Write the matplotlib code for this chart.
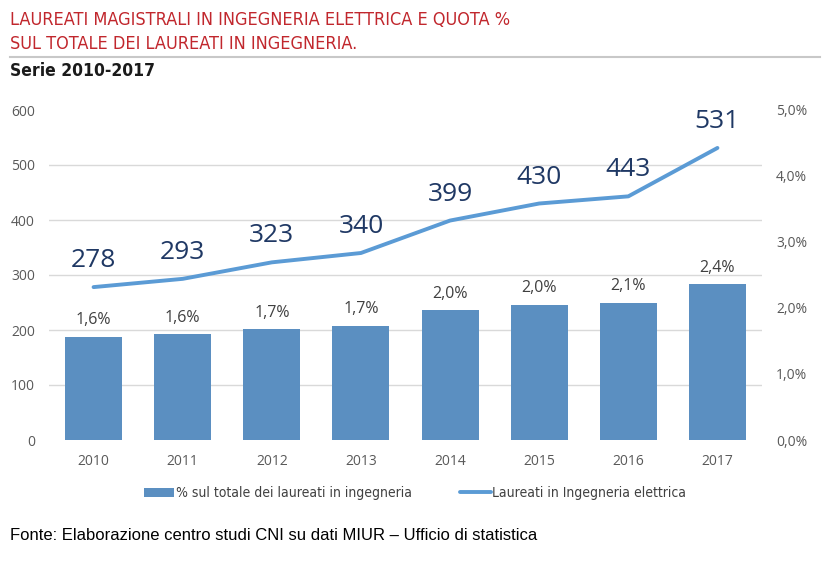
import matplotlib.pyplot as plt
import numpy as np

anni = ['2010', '2011', '2012', '2013', '2014', '2015', '2016', '2017']
laureati = [278, 293, 323, 340, 399, 430, 443, 531]
quota = [1.565, 1.60, 1.68, 1.73, 1.97, 2.05, 2.08, 2.36]
quota_lbl = ['1,6%', '1,6%', '1,7%', '1,7%', '2,0%', '2,0%', '2,1%', '2,4%']

fig = plt.figure(figsize=(8.25, 5.63), dpi=100)
ax = fig.add_axes([49/825, 1-440/563, 713/825, 330/563])
ax2 = ax.twinx()

x = np.arange(len(anni))
ax2.bar(x, quota, width=0.64, color='#5B8FC1', zorder=2,
        label='% sul totale dei laureati in ingegneria')
for i, v in enumerate(quota):
    ax2.annotate(quota_lbl[i], (x[i], v), xytext=(0, 6), textcoords='offset points',
                 ha='center', va='bottom', fontsize=11.5, color='#404040', family='Open Sans')

ax.plot(x, laureati, color='#5B9BD5', lw=2.8, solid_capstyle='round', zorder=3,
        label='Laureati in Ingegneria elettrica')
for i, v in enumerate(laureati):
    ax.annotate(str(v), (x[i], v), xytext=(0, 10), textcoords='offset points',
                ha='center', va='bottom', fontsize=19, color='#1F3864', family='Open Sans')

ax.set_xlim(-0.5, len(anni) - 0.5)
ax.set_ylim(0, 600)
ax.set_yticks(range(0, 601, 100))
ax2.set_ylim(0, 5)
ax2.set_yticks(range(0, 6))
ax2.set_yticklabels(['%d,0%%' % i for i in range(6)])
ax.set_xticks(x)
ax.set_xticklabels(anni)
# griglia ai tick di sinistra, ma disegnata sull'asse delle barre (dietro)
ax2.set_yticks(np.arange(0, 601, 100) * 5 / 600, minor=True)
ax2.grid(axis='y', which='minor', color='#D9D9D9', lw=1, zorder=0)
ax2.set_axisbelow(True)
for a in (ax, ax2):
    for s in a.spines.values():
        s.set_visible(False)
    a.tick_params(which='both', length=0, labelsize=10, labelcolor='#595959')
    for t in a.get_xticklabels() + a.get_yticklabels():
        t.set_family('Open Sans')
ax.tick_params(axis='y', pad=10)
ax.tick_params(axis='x', pad=10)
ax2.tick_params(axis='y', pad=10)
ax.set_zorder(ax2.get_zorder() + 1)
ax.patch.set_visible(False)

cond = dict(family='DejaVu Sans', stretch='condensed')
h1, l1 = ax2.get_legend_handles_labels()
h2, l2 = ax.get_legend_handles_labels()
fig.legend(h1 + h2, l1 + l2, loc='center', bbox_to_anchor=(415/825, 1-493/563), ncol=2,
           frameon=False, prop=dict(size=10, **cond),
           labelcolor='#404040', handlelength=2.2, handletextpad=0.1, columnspacing=3.5,
           handleheight=0.6)

fig.text(10/825, 1-20/563, 'LAUREATI MAGISTRALI IN INGEGNERIA ELETTRICA E QUOTA %',
         color='#C1272D', fontsize=13, va='center', **cond)
fig.text(10/825, 1-44/563, 'SUL TOTALE DEI LAUREATI IN INGEGNERIA.',
         color='#C1272D', fontsize=13, va='center', **cond)
fig.add_artist(plt.Line2D([10/825, 820/825], [1-57/563, 1-57/563], color='#C8C8C8', lw=1.5))
fig.text(10/825, 1-71/563, 'Serie 2010-2017', color='#1a1a1a', fontsize=12.5,
         weight='bold', va='center', **cond)
fig.text(10/825, 1-535/563, 'Fonte: Elaborazione centro studi CNI su dati MIUR – Ufficio di statistica',
         color='black', fontsize=12, family='Liberation Sans', va='center')

fig.savefig('out.png', dpi=100)
